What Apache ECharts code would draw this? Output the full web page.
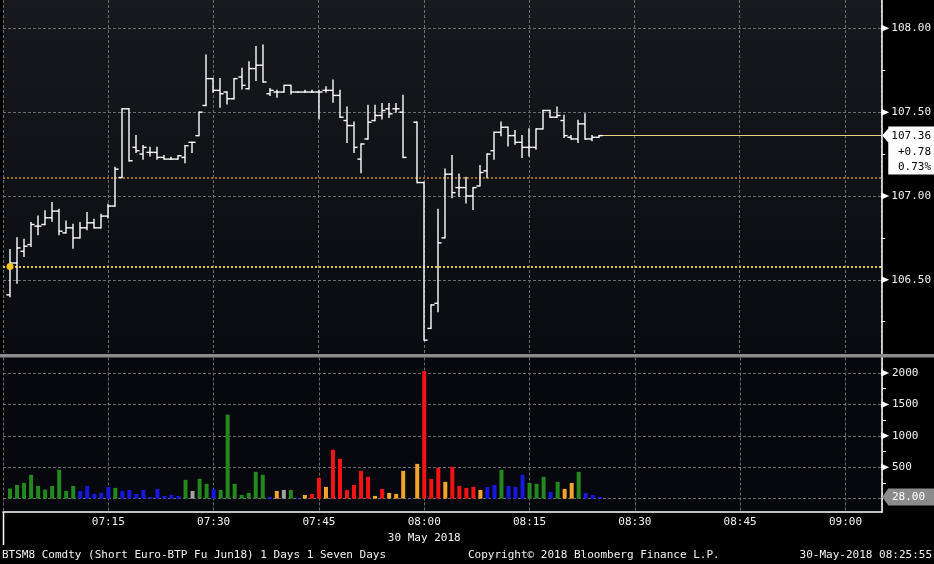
<!DOCTYPE html>
<html><head><meta charset="utf-8">
<script src="https://cdn.jsdelivr.net/npm/echarts@6/dist/echarts.min.js"></script>
<style>html,body{margin:0;padding:0;background:#000;}#c{width:934px;height:564px;}</style>
</head><body><div id="c"></div>
<script>
// ---------- data ----------
const times = ["07:01","07:02","07:03","07:04","07:05","07:06","07:07","07:08","07:09","07:10",
"07:11","07:12","07:13","07:14","07:15","07:16","07:17","07:18","07:19","07:20",
"07:21","07:22","07:23","07:24","07:25","07:26","07:27","07:28","07:29","07:30",
"07:31","07:32","07:33","07:34","07:35","07:36","07:37","07:38","07:39","07:40",
"07:41","07:42","07:43","07:44","07:45","07:46","07:47","07:48","07:49","07:50",
"07:51","07:52","07:53","07:54","07:55","07:56","07:57",
"07:59","08:00",
"08:01","08:02","08:03","08:04","08:05","08:06","08:07","08:08","08:09","08:10",
"08:11","08:12","08:13","08:14","08:15","08:16","08:17","08:18","08:19","08:20",
"08:21","08:22","08:23","08:24","08:25"];
const opens = [106.41,106.60,106.67,106.71,106.82,106.83,106.87,106.91,106.78,106.81,
106.75,106.81,106.84,106.81,106.88,106.94,107.11,107.52,107.29,107.25,
107.26,107.26,107.23,107.22,107.22,107.23,107.32,107.36,107.54,107.70,
107.63,107.62,107.58,107.71,107.64,107.76,107.78,107.61,107.62,107.62,
107.66,107.62,107.62,107.62,107.62,107.63,107.63,107.60,107.45,107.42,
107.22,107.34,107.45,107.48,107.52,107.52,107.50,
107.44,107.08,
106.21,106.36,106.75,107.13,107.05,107.05,107.00,107.06,107.15,107.27,
107.38,107.41,107.36,107.32,107.29,107.29,107.40,107.51,107.47,107.45,
107.35,107.34,107.43,107.34,107.35];
const highs = [106.68,106.75,106.74,106.84,106.88,106.91,106.96,106.92,106.85,106.83,
106.84,106.90,106.86,106.89,106.95,107.17,107.52,107.52,107.36,107.30,
107.29,107.29,107.24,107.23,107.24,107.30,107.32,107.50,107.84,107.70,
107.70,107.62,107.70,107.76,107.80,107.89,107.90,107.64,107.63,107.66,
107.66,107.62,107.63,107.63,107.63,107.65,107.69,107.63,107.53,107.44,
107.31,107.54,107.54,107.55,107.55,107.55,107.60,
107.44,107.08,
106.35,106.92,107.16,107.24,107.13,107.11,107.05,107.18,107.25,107.38,
107.44,107.41,107.39,107.36,107.40,107.40,107.51,107.51,107.53,107.48,
107.36,107.45,107.49,107.36,107.36];
const lows = [106.40,106.48,106.64,106.70,106.77,106.83,106.85,106.77,106.78,106.69,
106.75,106.80,106.81,106.81,106.87,106.94,107.11,107.21,107.26,107.22,
107.24,107.22,107.22,107.22,107.22,107.20,107.26,107.36,107.54,107.62,
107.53,107.55,107.58,107.64,107.64,107.69,107.68,107.60,107.59,107.62,
107.61,107.62,107.62,107.62,107.46,107.62,107.56,107.47,107.32,107.26,
107.14,107.34,107.45,107.46,107.47,107.50,107.23,
107.08,106.14,
106.21,106.31,106.75,106.99,107.00,106.96,106.92,107.06,107.11,107.22,
107.36,107.30,107.31,107.23,107.24,107.28,107.40,107.47,107.47,107.35,
107.34,107.32,107.34,107.33,107.35];
const closes = [106.60,106.69,106.70,106.83,106.82,106.87,106.91,106.79,106.81,106.75,
106.81,106.84,106.81,106.88,106.94,107.16,107.52,107.21,107.27,107.29,
107.26,107.23,107.22,107.22,107.24,107.30,107.32,107.50,107.70,107.63,
107.61,107.58,107.70,107.66,107.76,107.78,107.68,107.63,107.62,107.66,
107.62,107.62,107.62,107.62,107.62,107.63,107.60,107.47,107.42,107.29,
107.31,107.44,107.48,107.51,107.49,107.52,107.23,
107.08,106.14,
106.35,106.72,107.13,107.02,107.05,107.00,107.05,107.14,107.25,107.38,
107.41,107.36,107.32,107.29,107.29,107.40,107.51,107.47,107.48,107.36,
107.34,107.43,107.34,107.35,107.36];
const volumes = [160,219,250,379,203,144,203,459,123,203,
123,203,75,91,187,171,123,139,75,139,
27,155,43,59,43,299,123,315,235,155,
139,1338,235,59,91,427,379,27,123,139,
139,11,59,75,330,187,778,634,139,219,
442,347,43,155,91,75,442,
554,2030,
315,490,267,506,203,171,187,139,187,219,
459,203,187,379,250,235,347,107,267,155,
250,427,91,59,28];
// volume bar tone codes as shown by the terminal (G green, B blue, R red, O orange, N grey)
const volumeTone = ["G","G","G","G","G","G","G","G","G","G",
"B","B","B","B","B","G","B","B","B","B",
"B","B","B","B","B","G","N","G","G","B",
"G","G","G","G","G","G","G","B","O","N",
"G","B","O","R","R","O","R","R","R","R",
"R","R","O","R","O","O","O",
"O","R",
"R","R","O","R","R","R","R","O","B","B",
"G","B","B","B","G","G","G","B","G","O",
"O","G","B","B","B"];
const previousClose = 106.58;
const referenceLevel = 107.11;
const priceTicks = [106.5, 107.0, 107.5, 108.0];
const priceMinorTicks = [106.25, 106.75, 107.25, 107.75];
const volumeTicks = [500, 1000, 1500, 2000];
const volumeMinorTicks = [250, 750, 1250, 1750];
const volumeGridLevels = [0, 500, 1000, 1500, 2000];
const timeTickLabels = ["07:15","07:30","07:45","08:00","08:15","08:30","08:45","09:00"];
const dateLabel = "30 May 2018";
const titleText = "BTSM8 Comdty (Short Euro-BTP Fu Jun18) 1 Days 1 Seven Days";
const copyrightText = "Copyright\u00A9 2018 Bloomberg Finance L.P.";
const stampText = "30-May-2018 08:25:55";

// ---------- helpers ----------
const START = 7 * 60;
const toMin = s => { const [h, m] = s.split(':').map(Number); return h * 60 + m - START; };
const fmtTime = v => { const t = START + Math.round(v); return String(Math.floor(t / 60)).padStart(2, '0') + ':' + String(t % 60).padStart(2, '0'); };
const xs = times.map(toMin);
const ohlc = xs.map((x, i) => [x, opens[i], highs[i], lows[i], closes[i]]);
const vol = xs.map((x, i) => [x, volumes[i]]);
const toneColor = { G: '#23891f', B: '#1717e0', R: '#f21414', O: '#f3a42a', N: '#a2a2a2' };

const X_MAX = 125.2;
const FONT = 'DejaVu Sans Mono';
const GRID_COLOR = '#6c6c6c';
const dash = [3, 2];

const chart = echarts.init(document.getElementById('c'), null, { renderer: 'canvas' });

const option = {
  backgroundColor: '#000',
  animation: false,
  grid: [
    { left: 3, right: 52, top: 0, height: 353.5, show: true, borderWidth: 0,
      backgroundColor: { type: 'linear', x: 0, y: 0, x2: 0, y2: 1,
        colorStops: [{ offset: 0, color: '#18181f' }, { offset: 1, color: '#0a0a11' }] } },
    { left: 3, right: 52, top: 357.5, height: 154.5, show: true, borderWidth: 0, backgroundColor: '#07070e' }
  ],
  xAxis: [
    { type: 'value', gridIndex: 0, min: 0, max: X_MAX, interval: 15,
      axisLine: { show: false }, axisTick: { show: false }, axisLabel: { show: false },
      splitLine: { show: true, lineStyle: { color: GRID_COLOR, type: dash, width: 1 } } },
    { type: 'value', gridIndex: 1, min: 0, max: X_MAX, interval: 15,
      axisLine: { show: true, onZero: false, lineStyle: { color: '#ffffff', width: 1.5 } },
      axisTick: { show: false },
      axisLabel: { show: true, margin: 5, color: '#f2f2f2', fontFamily: FONT, fontSize: 11,
        showMinLabel: false, showMaxLabel: false,
        formatter: v => timeTickLabels.includes(fmtTime(v)) && Math.abs(v - Math.round(v)) < 1e-6 ? fmtTime(v) : '' },
      splitLine: { show: true, lineStyle: { color: GRID_COLOR, type: dash, width: 1 } } }
  ],
  yAxis: [
    { type: 'value', gridIndex: 0, position: 'right', min: 106.0603, max: 108.169, scale: true,
      axisLine: { show: true, onZero: false, lineStyle: { color: '#ffffff', width: 1.5 } },
      axisTick: { show: true, length: 4, customValues: priceMinorTicks, lineStyle: { color: '#ffffff' } },
      axisLabel: { show: true, margin: 10, customValues: priceTicks, color: '#f2f2f2', fontFamily: FONT, fontSize: 11,
        formatter: v => v.toFixed(2) },
      splitLine: { show: false } },
    { type: 'value', gridIndex: 1, position: 'right', min: -212.7, max: 2247,
      axisLine: { show: true, onZero: false, lineStyle: { color: '#ffffff', width: 1.5 } },
      axisTick: { show: true, length: 4, customValues: volumeMinorTicks, lineStyle: { color: '#ffffff' } },
      axisLabel: { show: true, margin: 10, customValues: volumeTicks, color: '#f2f2f2', fontFamily: FONT, fontSize: 11,
        formatter: v => String(v) },
      splitLine: { show: false } }
  ],
  series: [
    { // price grid + reference levels
      type: 'line', xAxisIndex: 0, yAxisIndex: 0, data: [], silent: true, z: 1,
      markLine: {
        silent: true, symbol: 'none', z: 1, animation: false, label: { show: false },
        lineStyle: { color: GRID_COLOR, type: dash, width: 1 },
        data: priceTicks.map(v => ({ yAxis: v })).concat([
          { yAxis: referenceLevel, lineStyle: { color: '#9b6d22', type: [2, 2], width: 2 } },
          { yAxis: previousClose, lineStyle: { color: '#d9cf2c', type: [2, 2], width: 2 } },
          [ { coord: [xs[xs.length - 1], closes[closes.length - 1]], lineStyle: { color: '#e4cf7e', type: 'solid', width: 1.2 } },
            { coord: [X_MAX, closes[closes.length - 1]] } ]
        ])
      },
      markPoint: {
        silent: true, z: 4, animation: false, symbol: 'circle', symbolSize: 7, label: { show: false },
        itemStyle: { color: '#f1c41f' },
        data: [{ coord: [xs[0], previousClose] }]
      }
    },
    { // OHLC bars
      type: 'custom', xAxisIndex: 0, yAxisIndex: 0, z: 3, silent: true,
      data: ohlc,
      encode: { x: 0, y: [1, 2, 3, 4] },
      renderItem: (params, api) => {
        const x = api.value(0);
        const pH = api.coord([x, api.value(2)]);
        const pL = api.coord([x, api.value(3)]);
        const pO = api.coord([x, api.value(1)]);
        const pC = api.coord([x, api.value(4)]);
        const px = Math.round(pH[0]);
        const st = { stroke: '#ffffff', lineWidth: 1.4 };
        return { type: 'group', children: [
          { type: 'line', shape: { x1: px, y1: pH[1] - 0.7, x2: px, y2: pL[1] + 0.7 }, style: st },
          { type: 'line', shape: { x1: px - 3.6, y1: pO[1], x2: px, y2: pO[1] }, style: st },
          { type: 'line', shape: { x1: px, y1: pC[1], x2: px + 3.6, y2: pC[1] }, style: st }
        ] };
      }
    },
    { // volume
      type: 'bar', xAxisIndex: 1, yAxisIndex: 1, z: 3, silent: true, barWidth: 4,
      data: vol,
      itemStyle: { color: p => toneColor[volumeTone[p.dataIndex]] },
      markLine: {
        silent: true, symbol: 'none', z: 1, animation: false, label: { show: false },
        lineStyle: { color: GRID_COLOR, type: dash, width: 1 },
        data: volumeGridLevels.map(v => ({ yAxis: v }))
      }
    }
  ]
};
chart.setOption(option);

// ---------- decorations positioned through the axes ----------
function decorations() {
  const axisX = chart.convertToPixel({ xAxisIndex: 0 }, X_MAX);
  const leftX = chart.convertToPixel({ xAxisIndex: 0 }, 0);
  const dateX = chart.convertToPixel({ xAxisIndex: 1 }, toMin("08:00"));
  const lastClose = closes[closes.length - 1];
  const lastVol = volumes[volumes.length - 1];
  const py = chart.convertToPixel({ yAxisIndex: 0 }, lastClose);
  const vy = chart.convertToPixel({ yAxisIndex: 1 }, lastVol);
  const chg = lastClose - previousClose;
  const pct = chg / previousClose * 100;
  const g = [];
  // separator band
  g.push({ type: 'rect', shape: { x: 0, y: 354, width: 934, height: 3.5 }, style: { fill: '#8b8b8b' }, z: 20 });
  // triangle markers on major ticks
  priceTicks.forEach(v => {
    const y = chart.convertToPixel({ yAxisIndex: 0 }, v);
    g.push({ type: 'polygon', shape: { points: [[axisX, y - 3.5], [axisX + 8, y], [axisX, y + 3.5]] }, style: { fill: '#fff' }, z: 20 });
  });
  volumeTicks.forEach(v => {
    const y = chart.convertToPixel({ yAxisIndex: 1 }, v);
    g.push({ type: 'polygon', shape: { points: [[axisX, y - 3.5], [axisX + 8, y], [axisX, y + 3.5]] }, style: { fill: '#fff' }, z: 20 });
  });
  // last price box
  g.push({ type: 'polygon', z: 21, shape: { points: [[axisX + 1, py], [axisX + 7, py - 7], [axisX + 7, py - 9], [934, py - 9], [934, py + 39], [axisX + 7, py + 39], [axisX + 7, py + 7]] }, style: { fill: '#ffffff' } });
  [lastClose.toFixed(2), (chg >= 0 ? '+' : '') + chg.toFixed(2), pct.toFixed(2) + '%'].forEach((t, i) => {
    g.push({ type: 'text', z: 22, style: { text: t, x: 931, y: py + 0.5 + i * 15.6, align: 'right', verticalAlign: 'middle', fill: '#000', font: '11px "DejaVu Sans Mono"' } });
  });
  // last volume box
  g.push({ type: 'polygon', z: 21, shape: { points: [[axisX + 1, vy], [axisX + 7, vy - 8.5], [934, vy - 8.5], [934, vy + 8.5], [axisX + 7, vy + 8.5]] }, style: { fill: '#8b8b8b' } });
  g.push({ type: 'text', z: 22, style: { text: lastVol.toFixed(2), x: 892, y: vy, align: 'left', verticalAlign: 'middle', fill: '#fff', font: '11px "DejaVu Sans Mono"' } });
  // left edge marker line below the axis
  g.push({ type: 'line', z: 20, shape: { x1: leftX + 0.5, y1: 512, x2: leftX + 0.5, y2: 545 }, style: { stroke: '#fff', lineWidth: 1.5 } });
  // texts
  g.push({ type: 'text', z: 20, style: { text: dateLabel, x: dateX, y: 538, align: 'center', verticalAlign: 'middle', fill: '#f2f2f2', font: '11px "DejaVu Sans Mono"' } });
  g.push({ type: 'text', z: 20, style: { text: titleText, x: 2, y: 555, align: 'left', verticalAlign: 'middle', fill: '#f2f2f2', font: '11px "DejaVu Sans Mono"' } });
  g.push({ type: 'text', z: 20, style: { text: copyrightText, x: 468, y: 555, align: 'left', verticalAlign: 'middle', fill: '#f2f2f2', font: '11px "DejaVu Sans Mono"' } });
  g.push({ type: 'text', z: 20, style: { text: stampText, x: 932, y: 555, align: 'right', verticalAlign: 'middle', fill: '#f2f2f2', font: '11px "DejaVu Sans Mono"' } });
  chart.setOption({ graphic: g });
}
decorations();
</script>
</body></html>
